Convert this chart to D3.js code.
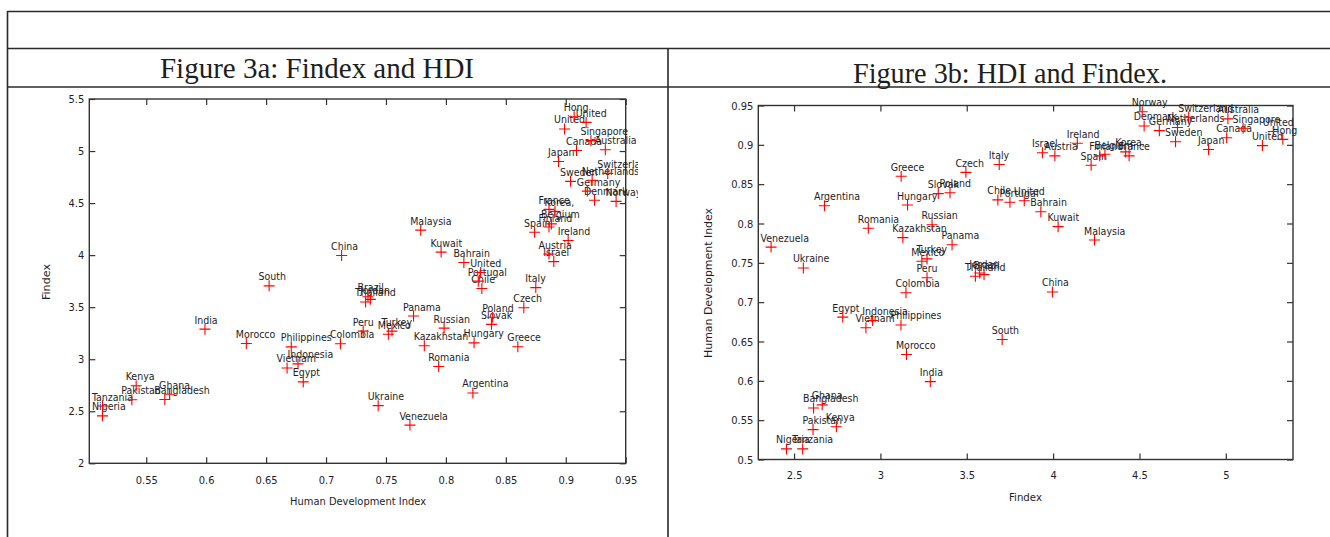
<!DOCTYPE html>
<html><head><meta charset="utf-8">
<script src="https://cdn.jsdelivr.net/npm/d3@7/dist/d3.min.js"></script>
<style>
html,body{margin:0;padding:0;background:#fff;}
svg{display:block;}
.lbl{font-family:"DejaVu Sans Condensed","DejaVu Sans",sans-serif;font-size:10.5px;fill:#1e1e26;}
.tick text{font-family:"DejaVu Sans Condensed","DejaVu Sans",sans-serif;font-size:11px;fill:#1e1e26;}
</style></head>
<body>
<svg id="c" width="1330" height="537"></svg>
<script>
const countries = ["Hong","United","United","Singapore","Canada","Australia","Japan","Sweden","Switzerland","Netherlands","Germany","Denmark","Norway","Korea,","France","Belgium","Finland","Spain","Ireland","Austria","Israel","Italy","Czech","Malaysia","China","Kuwait","Bahrain","United","Portugal","Chile","Poland","Slovak","South","Brazil","Jordan","Thailand","Panama","Russian","Peru","Turkey","Mexico","Hungary","Kazakhstan","Greece","Colombia","Romania","Argentina","Ukraine","Venezuela","India","Morocco","Philippines","Indonesia","Vietnam","Egypt","Kenya","Pakistan","Ghana","Bangladesh","Tanzania","Nigeria"];
const hdi = [0.907,0.917,0.899,0.921,0.909,0.933,0.894,0.904,0.935,0.922,0.918,0.924,0.942,0.891,0.886,0.888,0.886,0.874,0.902,0.886,0.890,0.875,0.865,0.779,0.713,0.796,0.815,0.829,0.827,0.830,0.839,0.838,0.6525,0.735,0.737,0.733,0.773,0.7985,0.731,0.755,0.752,0.8235,0.782,0.860,0.712,0.794,0.8225,0.7435,0.770,0.599,0.6335,0.671,0.6766,0.6675,0.681,0.5416,0.538,0.5695,0.5655,0.5135,0.5135];
const findex = [5.33,5.275,5.212,5.10,5.005,5.012,4.90,4.709,4.785,4.72,4.615,4.527,4.516,4.42,4.44,4.30,4.27,4.22,4.14,4.01,3.938,3.688,3.495,4.24,3.996,4.029,3.929,3.833,3.75,3.68,3.403,3.335,3.705,3.60,3.575,3.55,3.415,3.299,3.27,3.27,3.24,3.157,3.13,3.12,3.148,2.93,2.676,2.554,2.367,3.289,3.151,3.119,2.955,2.916,2.782,2.745,2.61,2.663,2.613,2.55,2.456];
const hdiTicksA = [0.55,0.6,0.65,0.7,0.75,0.8,0.85,0.9,0.95];
const findexTicksA = [2,2.5,3,3.5,4,4.5,5,5.5];
const findexTicksB = [2.5,3,3.5,4,4.5,5];
const hdiTicksB = [0.5,0.55,0.6,0.65,0.7,0.75,0.8,0.85,0.9,0.95];
const titles = ["Figure 3a: Findex and HDI","Figure 3b: HDI and Findex."];
const axisTitlesA = ["Human Development Index","Findex"];
const axisTitlesB = ["Findex","Human Development Index"];

const svg = d3.select("#c");
const ink = "#1e1e1e";

// table lines
const tbl = svg.append("g").attr("stroke","#2a2a2a").attr("stroke-width",1.6).attr("fill","none");
tbl.append("line").attr("x1",7).attr("x2",1330).attr("y1",11.5).attr("y2",11.5);
tbl.append("line").attr("x1",7).attr("x2",1330).attr("y1",48.5).attr("y2",48.5);
tbl.append("line").attr("x1",7).attr("x2",1330).attr("y1",87).attr("y2",87);
tbl.append("line").attr("x1",7.5).attr("x2",7.5).attr("y1",11).attr("y2",537);
tbl.append("line").attr("x1",668).attr("x2",668).attr("y1",48).attr("y2",537);

// titles
svg.append("text").attr("x",317).attr("y",78).attr("text-anchor","middle")
  .attr("font-family","'Liberation Serif','Times New Roman',serif").attr("font-size",28.5).attr("fill",ink)
  .attr("textLength",314).attr("lengthAdjust","spacingAndGlyphs").text(titles[0]);
svg.append("text").attr("x",1010).attr("y",83).attr("text-anchor","middle")
  .attr("font-family","'Liberation Serif','Times New Roman',serif").attr("font-size",28.5).attr("fill",ink)
  .attr("textLength",314).attr("lengthAdjust","spacingAndGlyphs").text(titles[1]);

function scatter(cfg){
  const x = d3.scaleLinear().domain(cfg.xd).range([cfg.l,cfg.r]);
  const y = d3.scaleLinear().domain(cfg.yd).range([cfg.b,cfg.t]);
  const g = svg.append("g");
  const clipId = "clip"+cfg.id;
  svg.append("clipPath").attr("id",clipId).append("rect")
    .attr("x",0).attr("y",0).attr("width",cfg.clipR).attr("height",537);

  const axB = g.append("g").attr("transform",`translate(0,${cfg.b})`)
    .call(d3.axisBottom(x).tickValues(cfg.xt).tickSize(-6).tickPadding(cfg.xpad).tickFormat(d3.format("")));
  const axT = g.append("g").attr("transform",`translate(0,${cfg.t})`)
    .call(d3.axisTop(x).tickValues(cfg.xt).tickSize(-6).tickFormat(""));
  const axL = g.append("g").attr("transform",`translate(${cfg.l},0)`)
    .call(d3.axisLeft(y).tickValues(cfg.yt).tickSize(-6).tickPadding(5).tickFormat(d3.format("")));
  const axR = g.append("g").attr("transform",`translate(${cfg.r},0)`)
    .call(d3.axisRight(y).tickValues(cfg.yt).tickSize(-6).tickFormat(""));
  [axB,axT,axL,axR].forEach(a=>{a.select(".domain").remove(); a.selectAll(".tick line").attr("stroke","#333").attr("stroke-width",1.2);});

  g.append("rect").attr("x",cfg.l).attr("y",cfg.t).attr("width",cfg.r-cfg.l).attr("height",cfg.b-cfg.t)
    .attr("fill","none").attr("stroke","#333").attr("stroke-width",1.4);

  const pts = g.append("g").attr("clip-path",`url(#${clipId})`);
  const idx = d3.range(countries.length);
  pts.selectAll("text.lbl").data(idx).join("text").attr("class","lbl")
    .attr("x",i=>x(cfg.xv[i])-10.5).attr("y",i=>y(cfg.yv[i])-5.5).text(i=>countries[i]);
  pts.selectAll("path.pt").data(idx).join("path").attr("class","pt")
    .attr("d",i=>{const px=x(cfg.xv[i]), py=y(cfg.yv[i]), s=5.5; return `M${px-s},${py}H${px+s}M${px},${py-s}V${py+s}`;})
    .attr("stroke","#ff0000").attr("stroke-width",1.1).attr("fill","none");

  // axis titles
  g.append("text").attr("class","lbl").attr("x",cfg.xlx).attr("y",cfg.xly).attr("text-anchor","middle")
    .attr("textLength",cfg.xlLen).attr("lengthAdjust","spacingAndGlyphs").text(cfg.xTitle);
  g.append("text").attr("class","lbl").attr("transform",`translate(${cfg.ylx},${cfg.yly}) rotate(-90)`)
    .attr("text-anchor","middle").attr("dy","0.35em")
    .attr("textLength",cfg.ylLen).attr("lengthAdjust","spacingAndGlyphs").text(cfg.yTitle);
}

scatter({id:"a", l:89.3, r:625.7, t:99, b:463.3, xd:[0.5025,0.95], yd:[2,5.5],
  xt:hdiTicksA, yt:findexTicksA, xv:hdi, yv:findex, xpad:13, clipR:638,
  xTitle:axisTitlesA[0], yTitle:axisTitlesA[1], xlx:358, xly:505, xlLen:136, ylx:46, yly:282, ylLen:36});

scatter({id:"b", l:758.3, r:1293, t:105.5, b:459.5, xd:[2.293,5.389], yd:[0.5,0.95],
  xt:findexTicksB, yt:hdiTicksB, xv:findex, yv:hdi, xpad:12, clipR:1300,
  xTitle:axisTitlesB[0], yTitle:axisTitlesB[1], xlx:1025.5, xly:501, xlLen:33, ylx:708, yly:283, ylLen:150});
</script>
</body></html>
